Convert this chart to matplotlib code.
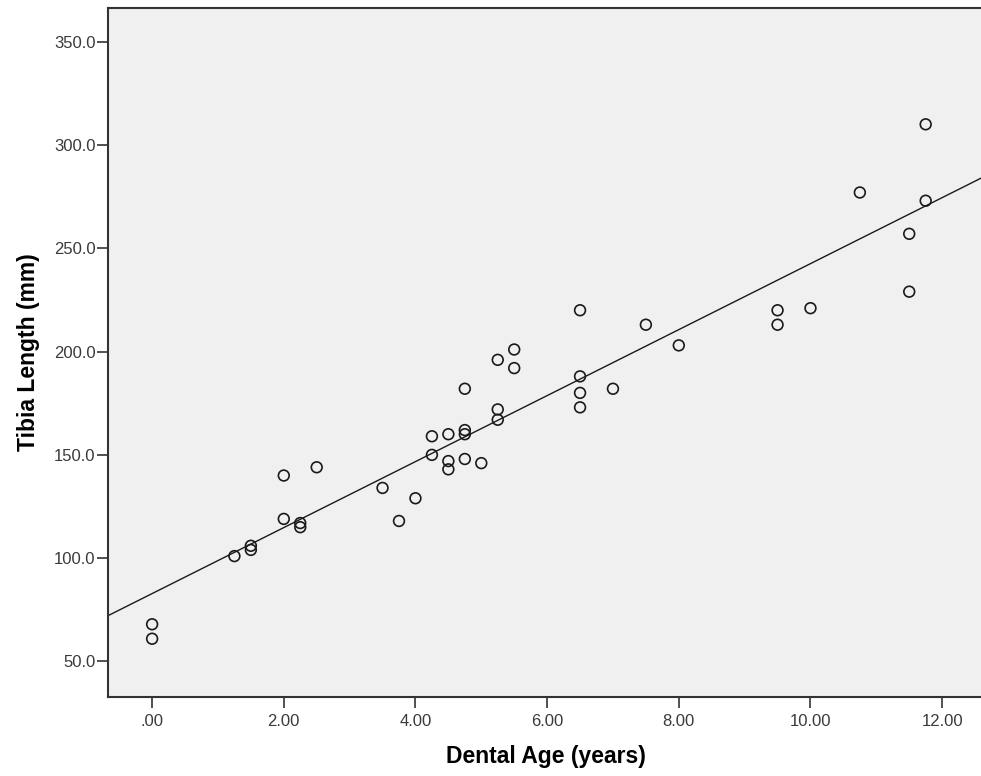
import numpy as np
import matplotlib
matplotlib.use("Agg")
import matplotlib.pyplot as plt
from matplotlib.ticker import FuncFormatter

plt.rcParams['font.family'] = ['Liberation Sans', 'DejaVu Sans']

# Dental age (years) and tibia length (mm)
dental_age = [0.0, 0.0, 1.25, 1.5, 1.5, 2.0, 2.0, 2.25, 2.25, 2.5,
              3.5, 3.75, 4.0, 4.25, 4.25, 4.5, 4.5, 4.5,
              4.75, 4.75, 4.75, 4.75, 5.0, 5.25, 5.25, 5.25, 5.5, 5.5,
              6.5, 6.5, 6.5, 6.5, 7.0, 7.5, 8.0, 9.5, 9.5, 10.0,
              10.75, 11.5, 11.5, 11.75, 11.75]
tibia_length = [68, 61, 101, 106, 104, 140, 119, 117, 115, 144,
                134, 118, 129, 159, 150, 160, 147, 143,
                182, 162, 160, 148, 146, 196, 172, 167, 201, 192,
                220, 188, 180, 173, 182, 213, 203, 220, 213, 221,
                277, 257, 229, 310, 273]

x_ticks = [0, 2, 4, 6, 8, 10, 12]
y_ticks = [50, 100, 150, 200, 250, 300, 350]

fig = plt.figure(figsize=(9.81, 7.76), dpi=100)
ax = fig.add_axes([108 / 981, 79 / 776, 1 - 108 / 981 + 0.002, 689 / 776])
ax.set_facecolor("#f0f0f0")

x = np.array(dental_age)
y = np.array(tibia_length)
ax.scatter(x, y, s=60, facecolors="none", edgecolors="#1a1a1a", linewidths=1.2, zorder=3)

# linear fit line across the full axis
slope, intercept = np.polyfit(x, y, 1)
xlim = (-0.67, 12.62)
xs = np.array(xlim)
ax.plot(xs, intercept + slope * xs, color="#1a1a1a", linewidth=1.0, zorder=2)

ax.set_xlim(*xlim)
ax.set_ylim(32.8, 366.3)
ax.set_xticks(x_ticks)
ax.set_yticks(y_ticks)

def fmt_x(v, pos):
    s = "%.2f" % v
    return s[1:] if s.startswith("0.") else s

ax.xaxis.set_major_formatter(FuncFormatter(fmt_x))
ax.yaxis.set_major_formatter(FuncFormatter(lambda v, pos: "%.1f" % v))

ax.tick_params(axis="both", direction="out", length=8, width=1.2, color="#333333",
               labelsize=12, labelcolor="#3a3a3a")
ax.tick_params(axis="y", pad=1)
ax.tick_params(axis="x", pad=4)

for side in ["left", "top", "bottom"]:
    ax.spines[side].set_color("#333333")
    ax.spines[side].set_linewidth(1.5)
ax.spines["right"].set_visible(False)

ax.set_xlabel("Dental Age (years)", fontsize=16.5, fontweight="bold", labelpad=12)
ax.set_ylabel("Tibia Length (mm)", fontsize=16.5, fontweight="bold", labelpad=10)

fig.savefig("out.png", dpi=100)
